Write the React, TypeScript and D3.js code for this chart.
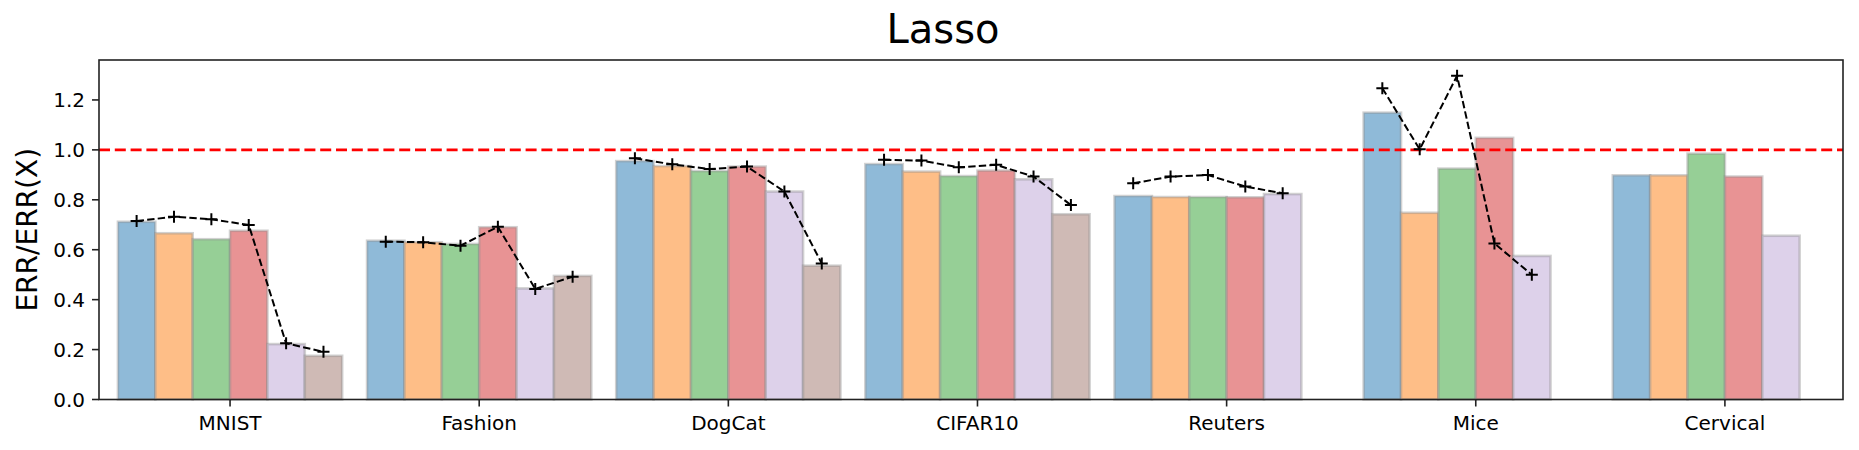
import React, { useRef, useEffect } from "react";
import { select, scaleLinear, line, range } from "d3";

// categories along the x axis
const categories = ["MNIST", "Fashion", "DogCat", "CIFAR10", "Reuters", "Mice", "Cervical"];

// bar heights, one array per method (null = no bar)
const barA = [0.712, 0.636, 0.955, 0.943, 0.815, 1.149, 0.898];
const barB = [0.666, 0.630, 0.935, 0.913, 0.811, 0.748, 0.898];
const barC = [0.642, 0.623, 0.915, 0.895, 0.811, 0.925, 0.985];
const barD = [0.676, 0.690, 0.933, 0.917, 0.810, 1.048, 0.893];
const barE = [0.222, 0.445, 0.833, 0.882, 0.823, 0.575, 0.656];
const barF = [0.175, 0.495, 0.536, 0.742, null, null, null];

// dashed "+" line values, one array per method (null = no point)
const lineA = [0.715, 0.632, 0.966, 0.960, 0.866, 1.247, null];
const lineB = [0.732, 0.630, 0.942, 0.957, 0.893, 1.002, null];
const lineC = [0.722, 0.616, 0.923, 0.930, 0.899, 1.297, null];
const lineD = [0.699, 0.692, 0.933, 0.940, 0.853, 0.625, null];
const lineE = [0.225, 0.443, 0.833, 0.893, 0.826, 0.500, null];
const lineF = [0.191, 0.492, 0.545, 0.779, null, null, null];

const yTicks = [0, 0.2, 0.4, 0.6, 0.8, 1.0, 1.2];
const refLevel = 1.0;

const colors = ["#8fbad8", "#febe87", "#96cf96", "#e89394", "#ddd1ea", "#cfbab5"];

const W = 1859;
const H = 450;

function App() {
  const svgRef = useRef(null);

  useEffect(() => {
    const svg = select(svgRef.current);
    svg.selectAll("*").remove();

    const left = 99, right = 1843, top = 60, bottom = 399.5;
    const x = scaleLinear().domain([-0.526, 6.474]).range([left, right]);
    const y = scaleLinear().domain([0, 1.36]).range([bottom, top]);
    const bw = 0.15; // bar width in category units

    const bars = [barA, barB, barC, barD, barE, barF];
    const lines = [lineA, lineB, lineC, lineD, lineE, lineF];

    // bars
    const barData = [];
    bars.forEach((arr, s) => {
      arr.forEach((v, c) => {
        if (v != null) barData.push({ s, c, v });
      });
    });
    svg
      .append("g")
      .selectAll("rect")
      .data(barData)
      .join("rect")
      .attr("x", (d) => x(d.c - 3 * bw + d.s * bw))
      .attr("width", (d) => x(bw) - x(0))
      .attr("y", (d) => y(d.v))
      .attr("height", (d) => y(0) - y(d.v))
      .attr("fill", (d) => colors[d.s])
      .attr("stroke", "#8c8c8c")
      .attr("stroke-opacity", 0.4)
      .attr("stroke-width", 2.6);

    // reference line at 1.0
    svg
      .append("line")
      .attr("x1", left)
      .attr("x2", right)
      .attr("y1", y(refLevel))
      .attr("y2", y(refLevel))
      .attr("stroke", "#ff0000")
      .attr("stroke-width", 2.6)
      .attr("stroke-dasharray", "11,4.8");

    // dashed black lines with + markers, one per category
    const myLine = line()
      .x((d) => x(d.c - 2.5 * bw + d.s * bw))
      .y((d) => y(d.v));
    const groups = categories.map((_, c) =>
      lines.map((arr, s) => ({ s, c, v: arr[c] })).filter((d) => d.v != null)
    ).filter((g) => g.length > 0);

    svg
      .append("g")
      .selectAll("path")
      .data(groups)
      .join("path")
      .attr("d", (g) => myLine(g))
      .attr("fill", "none")
      .attr("stroke", "black")
      .attr("stroke-width", 2)
      .attr("stroke-dasharray", "7.4,3.2");

    const pts = groups.flat();
    svg
      .append("g")
      .selectAll("path")
      .data(pts)
      .join("path")
      .attr("d", (d) => {
        const cx = x(d.c - 2.5 * bw + d.s * bw);
        const cy = y(d.v);
        return `M${cx - 6},${cy}H${cx + 6}M${cx},${cy - 6}V${cy + 6}`;
      })
      .attr("stroke", "black")
      .attr("stroke-width", 2);

    // frame
    svg
      .append("rect")
      .attr("x", left)
      .attr("y", top)
      .attr("width", right - left)
      .attr("height", bottom - top)
      .attr("fill", "none")
      .attr("stroke", "#222")
      .attr("stroke-width", 1.6);

    // y axis
    const yAxis = svg.append("g");
    yAxis
      .selectAll("line")
      .data(yTicks)
      .join("line")
      .attr("x1", left - 7)
      .attr("x2", left)
      .attr("y1", (d) => y(d))
      .attr("y2", (d) => y(d))
      .attr("stroke", "#222")
      .attr("stroke-width", 1.6);
    yAxis
      .selectAll("text")
      .data(yTicks)
      .join("text")
      .attr("x", left - 14)
      .attr("y", (d) => y(d))
      .attr("dy", "0.36em")
      .attr("text-anchor", "end")
      .attr("font-size", 20)
      .text((d) => d.toFixed(1));

    // x axis
    const xAxis = svg.append("g");
    xAxis
      .selectAll("line")
      .data(range(categories.length))
      .join("line")
      .attr("x1", (d) => x(d))
      .attr("x2", (d) => x(d))
      .attr("y1", bottom)
      .attr("y2", bottom + 7)
      .attr("stroke", "#222")
      .attr("stroke-width", 1.6);
    xAxis
      .selectAll("text")
      .data(categories)
      .join("text")
      .attr("x", (d, i) => x(i))
      .attr("y", 430)
      .attr("text-anchor", "middle")
      .attr("font-size", 20)
      .text((d) => d);

    // labels
    svg
      .append("text")
      .attr("transform", `translate(37,${(top + bottom) / 2}) rotate(-90)`)
      .attr("text-anchor", "middle")
      .attr("font-size", 28)
      .text("ERR/ERR(X)");

    svg
      .append("text")
      .attr("x", 943)
      .attr("y", 43)
      .attr("text-anchor", "middle")
      .attr("font-size", 40)
      .text("Lasso");
  }, []);

  return (
    <svg
      ref={svgRef}
      width={W}
      height={H}
      style={{
        position: "absolute",
        left: 0,
        top: 0,
        background: "white",
        fontFamily: "'DejaVu Sans', sans-serif",
      }}
    />
  );
}

export default App;
